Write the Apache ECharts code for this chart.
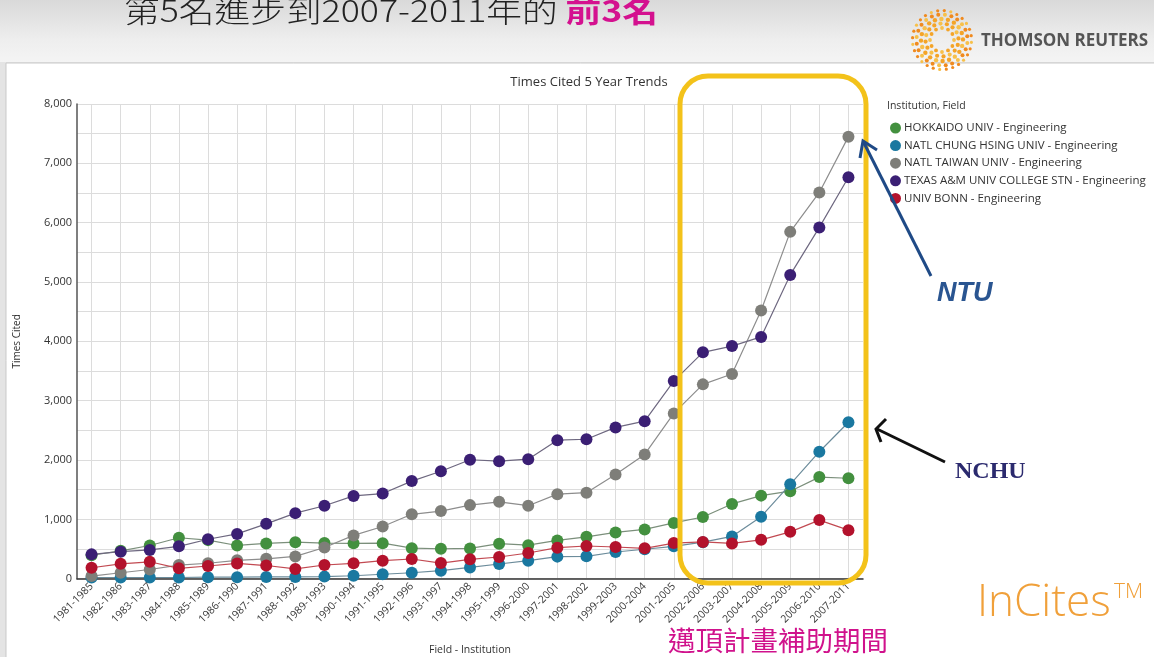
<!DOCTYPE html>
<html>
<head>
<meta charset="utf-8">
<script src="https://cdn.jsdelivr.net/npm/echarts@6/dist/echarts.min.js"></script>
<style>
html,body{margin:0;padding:0;width:1154px;height:657px;overflow:hidden;
  background:linear-gradient(to bottom,#d9d9d9 0px,#eeeeee 40px,#f4f4f4 62px,#e4e4e4 62px,#e4e4e4 657px);}
#c{width:1154px;height:657px;}
</style>
</head>
<body>
<div id="c"></div>
<script>
const categories = ['1981-1985','1982-1986','1983-1987','1984-1988','1985-1989','1986-1990','1987-1991','1988-1992','1989-1993','1990-1994','1991-1995','1992-1996','1993-1997','1994-1998','1995-1999','1996-2000','1997-2001','1998-2002','1999-2003','2000-2004','2001-2005','2002-2006','2003-2007','2004-2008','2005-2009','2006-2010','2007-2011'];
const seriesNames = ['HOKKAIDO UNIV - Engineering','NATL CHUNG HSING UNIV - Engineering','NATL TAIWAN UNIV - Engineering','TEXAS A&M UNIV COLLEGE STN - Engineering','UNIV BONN - Engineering'];
const hokkaido = [395,470,560,690,650,560,595,615,600,596,598,515,505,510,590,565,645,705,780,830,940,1040,1260,1400,1475,1712,1693];
const nchu     = [20,20,20,20,25,25,30,30,35,50,75,100,135,190,248,304,372,377,450,496,545,615,712,1046,1590,2140,2637];
const ntu      = [45,100,155,230,260,310,335,375,525,730,880,1085,1140,1240,1295,1230,1425,1450,1755,2095,2785,3275,3450,4520,5845,6510,7450];
const texas    = [410,455,485,545,665,755,925,1105,1230,1395,1435,1645,1810,2005,1980,2015,2335,2350,2550,2655,3330,3815,3920,4075,5120,5920,6765];
const bonn     = [185,250,285,175,214,258,222,165,231,259,304,332,264,326,366,433,523,551,534,512,600,620,595,655,790,988,818];
const yTicks = [0,1000,2000,3000,4000,5000,6000,7000,8000];

const markerColors = ['#43903f','#1a78a0','#7e7e79','#3b1f74','#b3122c'];
const lineColors   = ['#7b8f7b','#6c8c9b','#8d8d8d','#6e6880','#c24a52'];
const allData = [hokkaido, nchu, ntu, texas, bonn];

const chart = echarts.init(document.getElementById('c'));

// plot geometry
const L = 77, R = 1154 - 863, T = 104, B = 657 - 578.7;
const band = (1154 - L - R) / categories.length;

// logo dots
const logo = [];
const cx = 942, cy = 40;
const rings = [[12,12,1.9],[16.5,16,2.1],[21,20,2.2],[25.5,24,2.0],[29.5,28,1.6]];
rings.forEach((rg, ri) => {
  for (let i = 0; i < rg[1]; i++) {
    const a = (i / rg[1]) * Math.PI * 2 + ri * 0.3;
    logo.push({type:'circle', silent:true, z:20,
      shape:{cx: cx + rg[0]*Math.cos(a), cy: cy + rg[0]*Math.sin(a), r: rg[2]},
      style:{fill: (i + ri) % 3 === 0 ? '#f7c04a' : (ri > 2 ? '#f08a1e' : '#f4a428')}});
  }
});

const series = seriesNames.map((n, i) => ({
  name: n, type: 'line', data: allData[i],
  xAxisIndex: 0, yAxisIndex: 0,
  symbol: 'circle', symbolSize: 12, showSymbol: true,
  itemStyle: {color: markerColors[i]},
  lineStyle: {color: lineColors[i], width: 1.2},
  animation: false, z: 3 + i
}));
// empty helper series for the second (grid-line) axis
series.push({type:'line', data: [], xAxisIndex: 1, yAxisIndex: 1, silent: true});

chart.setOption({
  animation: false,
  textStyle: {fontFamily: 'Open Sans'},
  title: {text: 'Times Cited 5 Year Trends', left: 584, top: 71, textAlign: 'center',
    textStyle: {fontSize: 13, fontWeight: 'normal', color: '#333', fontFamily: 'Open Sans'}},
  legend: {
    orient: 'vertical', left: 885, top: 117, icon: 'circle',
    itemWidth: 11, itemHeight: 11, itemGap: 5.6,
    data: seriesNames,
    textStyle: {fontSize: 11.5, color: '#333', fontFamily: 'Open Sans', lineHeight: 12, padding: [0,0,0,-2]}
  },
  grid: [
    {left: L, right: R, top: T, bottom: B, containLabel: false, outerBoundsMode: 'none'},
    {left: L + band/2, right: R + band/2, top: T, bottom: B, containLabel: false, outerBoundsMode: 'none'}
  ],
  xAxis: [
    {type: 'category', gridIndex: 0, data: categories, boundaryGap: true,
     name: 'Field - Institution', nameLocation: 'middle', nameGap: 66,
     nameTextStyle: {fontSize: 10.5, color: '#333', fontFamily: 'Open Sans'},
     axisLine: {lineStyle: {color: '#333', width: 1.5}},
     axisTick: {show: false},
     splitLine: {show: false},
     axisLabel: {rotate: 45, interval: 0, fontSize: 10.5, color: '#3a3a3a', margin: 6, fontFamily: 'Open Sans'}},
    {type: 'category', gridIndex: 1, data: categories, boundaryGap: false,
     axisLine: {show: false}, axisTick: {show: false}, axisLabel: {show: false},
     splitLine: {show: true, interval: 0, lineStyle: {color: '#dcdcdc', width: 1}}}
  ],
  yAxis: [
    {type: 'value', gridIndex: 0, min: 0, max: 8000, interval: 500,
     name: 'Times Cited', nameLocation: 'middle', nameGap: 55,
     nameTextStyle: {fontSize: 10, color: '#333', fontFamily: 'Open Sans'},
     axisLine: {show: true, lineStyle: {color: '#555', width: 1.5}},
     axisTick: {show: false},
     splitLine: {lineStyle: {color: '#dcdcdc', width: 1}},
     axisLabel: {fontSize: 11, color: '#333', margin: 5, fontFamily: 'Open Sans',
       formatter: v => yTicks.indexOf(v) >= 0 ? v.toLocaleString('en-US') : ''}},
    {type: 'value', gridIndex: 1, min: 0, max: 8000, show: false, splitLine: {show: false}}
  ],
  graphic: [
    // white chart panel
    {type: 'rect', z: -10, silent: true, shape: {x: 6, y: 63, width: 1160, height: 600},
     style: {fill: '#ffffff', stroke: '#c9c9c9', lineWidth: 1}},
    // header
    {type: 'text', z: 20, silent: true, x: 124, y: 0, scaleX: 1.19, scaleY: 1,
     style: {x: 0, y: 11, verticalAlign: 'middle',
      text: '{a|第5名進步到2007-2011年的 }{b|前3名}',
      rich: {a: {fontSize: 30, fill: '#222', fontFamily: 'Noto Sans CJK TC', fontWeight: 300},
             b: {fontSize: 30, fill: '#d4118f', fontWeight: 'bold', fontFamily: 'Noto Sans CJK TC'}}}},
    ...logo,
    {type: 'text', z: 20, silent: true, style: {x: 981, y: 41, verticalAlign: 'middle',
      text: 'THOMSON REUTERS', fontSize: 17, fontWeight: 'bold', fill: '#555', fontFamily: 'Open Sans'}},
    // legend title
    {type: 'text', z: 20, silent: true, style: {x: 887, y: 106, verticalAlign: 'middle',
      text: 'Institution, Field', fontSize: 10.5, fill: '#333', fontFamily: 'Open Sans'}},
    // yellow highlight box
    {type: 'rect', z: 30, silent: true, shape: {x: 680, y: 76, width: 186, height: 507, r: 28},
     style: {fill: 'none', stroke: '#f3c21a', lineWidth: 5}},
    // NTU arrow
    {type: 'line', z: 30, silent: true, shape: {x1: 931, y1: 276, x2: 864, y2: 143},
     style: {stroke: '#1f4a86', lineWidth: 3}},
    {type: 'polyline', z: 30, silent: true, shape: {points: [[860, 158], [863, 141], [877, 150]]},
     style: {stroke: '#1f4a86', lineWidth: 3, fill: 'none'}},
    {type: 'text', z: 30, silent: true, style: {x: 937, y: 294, verticalAlign: 'middle',
      text: 'NTU', fontSize: 27, fontWeight: 'bold', fontStyle: 'italic', fill: '#2a5591', fontFamily: 'Liberation Sans'}},
    // NCHU arrow
    {type: 'line', z: 30, silent: true, shape: {x1: 945, y1: 462, x2: 877, y2: 429},
     style: {stroke: '#111', lineWidth: 3}},
    {type: 'polyline', z: 30, silent: true, shape: {points: [[886, 419], [876, 429], [881, 442]]},
     style: {stroke: '#111', lineWidth: 3, fill: 'none'}},
    {type: 'text', z: 30, silent: true, style: {x: 955, y: 472, verticalAlign: 'middle',
      text: 'NCHU', fontSize: 24, fontWeight: 'bold', fill: '#2b2a6e', fontFamily: 'Liberation Serif'}},
    // InCites
    {type: 'text', z: 30, silent: true, style: {x: 977, y: 603, verticalAlign: 'middle',
      text: 'InCites', fontSize: 44, fontWeight: 300, fill: '#f0a03a', fontFamily: 'Open Sans'}},
    {type: 'text', z: 30, silent: true, style: {x: 1114, y: 592, verticalAlign: 'middle',
      text: 'TM', fontSize: 21, fontWeight: 300, fill: '#f0a03a', fontFamily: 'Open Sans'}},
    // subsidy period caption
    {type: 'text', z: 30, silent: true, style: {x: 668, y: 641, verticalAlign: 'middle',
      text: '邁頂計畫補助期間', fontSize: 27.5, fill: '#d0128c', fontFamily: 'Noto Sans CJK TC'}}
  ],
  series: series
});
</script>
</body>
</html>
